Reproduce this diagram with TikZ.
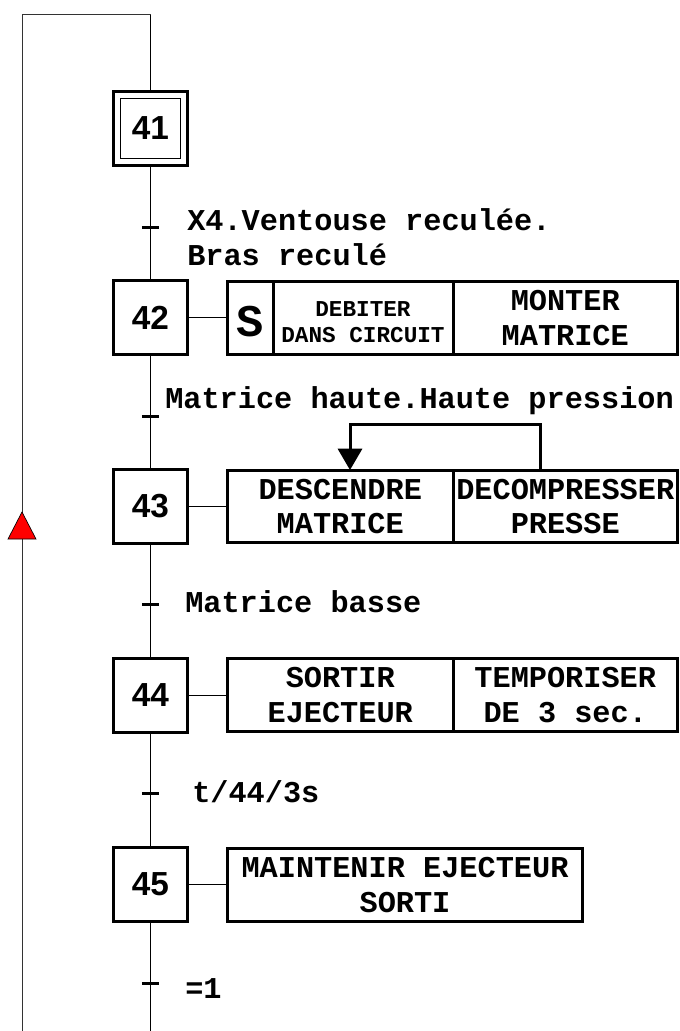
\documentclass[tikz,border=0pt]{standalone}
\usepackage{fontspec}
\setmonofont{Liberation Mono}
\newfontfamily\stepfont{Liberation Sans}
\usetikzlibrary{arrows.meta}
\begin{document}
\begin{tikzpicture}[x=0.75pt,y=-0.75pt,
  stepbox/.style={draw, line width=2.25pt, minimum width=55.5pt, minimum height=55.5pt, inner sep=0pt,
    font=\stepfont\bfseries\fontsize{25}{30}\selectfont},
  stepinner/.style={draw, line width=0.75pt, minimum width=45pt, minimum height=45pt, inner sep=0pt},
  cell/.style={draw, line width=2.25pt, inner sep=0pt, align=center,
    font=\ttfamily\bfseries\fontsize{22.7}{26}\selectfont},
  celltext/.style={inner sep=0pt, align=center},
  link/.style={line width=0.75pt},
  loopline/.style={line width=0.75pt, black!80},
  tick/.style={line width=2.25pt},
  trans/.style={anchor=base west, inner sep=0pt, font=\ttfamily\bfseries\fontsize{22.7}{26}\selectfont},
  fb/.style={line width=2.25pt, -{Triangle[width=18pt,length=16pt]}}
]
\useasboundingbox (0,0) rectangle (680,1031);
\fill[white] (0,0) rectangle (680,1031);

% steps
\node[stepbox] (s41) at (150.5,128.5) {};
\node[stepinner, font=\stepfont\bfseries\fontsize{25}{30}\selectfont] (s41in) at (150.5,128.5) {41};
\node[stepbox] (s42) at (150.5,317.5) {42};
\node[stepbox] (s43) at (150.5,506.5) {43};
\node[stepbox] (s44) at (150.5,695.5) {44};
\node[stepbox] (s45) at (150.5,884.5) {45};

% coordinates of the main line
\coordinate (top) at (150.5,15);
\coordinate (bot) at (150.5,1031);
\coordinate (ltop) at (22,15);
\coordinate (lbot) at (22,1031);
\coordinate (t1) at (150.5,227);
\coordinate (t2) at (150.5,416);
\coordinate (t3) at (150.5,604);
\coordinate (t4) at (150.5,793);
\coordinate (t5) at (150.5,983);

% main line
\draw[link] (top) -- (s41);
\draw[link] (s41) -- (s42);
\draw[link] (s42) -- (s43);
\draw[link] (s43) -- (s44);
\draw[link] (s44) -- (s45);
\draw[link] (s45) -- (bot);

% return line
\draw[loopline] (top) -- (ltop) -- (lbot);
\filldraw[fill=red, draw=black, line width=0.5pt] (8,539) -- (36,539) -- (22,512) -- cycle;

% ticks
\foreach \t in {t1,t2,t3,t4,t5}{
  \draw[tick] ([xshift=-6.4pt]\t) -- ([xshift=6.4pt]\t);
}

% transition receptivities
\node[trans] (r1a) at (187,230) {X4.Ventouse reculée.};
\node[trans] (r1b) at (187,265) {Bras reculé};
\node[trans] (r2) at (165,408) {Matrice haute.Haute pression};
\node[trans] (r3) at (185,612) {Matrice basse};
\node[trans] (r4) at (192,802) {t/44/3s};
\node[trans] (r5) at (185,998) {=1};

% actions step 42
\node[cell, minimum width=34.125pt, minimum height=54.75pt] (a42s) at (250.25,318) {};
\node[cell, minimum width=135pt, minimum height=54.75pt] (a42d) at (363,318) {};
\node[cell, minimum width=168.375pt, minimum height=54.75pt] (a42m) at (565.25,318) {MONTER\\MATRICE};
\node[celltext, font=\ttfamily\bfseries\fontsize{34}{40}\selectfont] (a42stext) at (250.5,321.5) {S};
\node[celltext, font=\ttfamily\bfseries\fontsize{17}{19.5}\selectfont] (a42dtext) at (363,322) {DEBITER\\DANS CIRCUIT};
\draw[link] (s42.east) -- (s42.east -| a42s.west);

% actions step 43
\node[cell, minimum width=169.125pt, minimum height=54pt] (a43a) at (340.25,506.5) {DESCENDRE\\MATRICE};
\node[cell, minimum width=168.375pt, minimum height=54pt] (a43b) at (565.25,506.5) {DECOMPRESSER\\PRESSE};
\draw[link] (s43.east) -- (s43.east -| a43a.west);
\coordinate (fbR) at (540,424);
\coordinate (fbL) at (350,424);
\draw[fb] (fbR |- a43b.north) -- (fbR) -- (fbL) -- ([yshift=-0.8pt]fbL |- a43a.north);

% actions step 44
\node[cell, minimum width=169.125pt, minimum height=54.75pt] (a44a) at (340.25,695) {SORTIR\\EJECTEUR};
\node[cell, minimum width=168.375pt, minimum height=54.75pt] (a44b) at (565.25,695) {TEMPORISER\\DE 3 sec.};
\draw[link] (s44.east) -- (s44.east -| a44a.west);

% actions step 45
\node[cell, minimum width=266.25pt, minimum height=54.75pt] (a45) at (405,885) {MAINTENIR EJECTEUR\\SORTI};
\draw[link] (s45.east) -- (s45.east -| a45.west);
\end{tikzpicture}
\end{document}
